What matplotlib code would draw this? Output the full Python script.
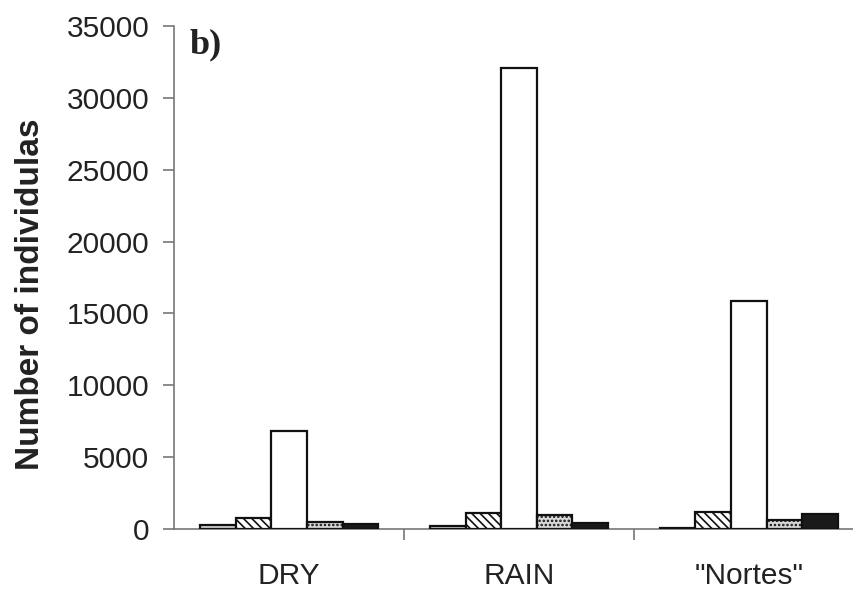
import numpy as np
import matplotlib.pyplot as plt
from matplotlib.ticker import FixedLocator

# datos
seasons = ['DRY', 'RAIN', '"Nortes"']
grp1 = [300, 200, 100]
grp2 = [750, 1100, 1150]
grp3 = [6800, 32100, 15850]
grp4 = [500, 950, 650]
grp5 = [380, 400, 1050]
series = [grp1, grp2, grp3, grp4, grp5]

fills = ['#d0d0d0', 'white', 'white', '#d8d8d8', '#1a1a1a']
hatches = [None, '\\\\\\\\', None, '....', None]

plt.rcParams['font.family'] = ['Liberation Sans', 'DejaVu Sans']
plt.rcParams['hatch.linewidth'] = 1.2

fig = plt.figure(figsize=(8.54, 5.92), dpi=100)
ax = fig.add_axes([0.204, 0.1064, 0.796, 0.8497])

x = np.arange(len(seasons))
w = 0.155
for i, vals in enumerate(series):
    ax.bar(x + (i - 2) * w, vals, w, color=fills[i], edgecolor='#111111',
           linewidth=1.6, hatch=hatches[i], zorder=3)

ax.set_ylim(0, 35000)
ax.set_yticks(np.arange(0, 35001, 5000))
ax.set_xlim(-0.5, 2.457)
ax.set_xticks(x)
ax.set_xticklabels(seasons)
ax.xaxis.set_minor_locator(FixedLocator([0.5, 1.5]))

for s in ['top', 'right']:
    ax.spines[s].set_visible(False)
for s in ['left', 'bottom']:
    ax.spines[s].set_color('#777777')
    ax.spines[s].set_linewidth(1.2)

ax.tick_params(axis='y', labelsize=21.5, length=8, width=1.2, color='#777777',
               pad=10, labelcolor='#222222')
ax.tick_params(axis='x', which='major', length=0, labelsize=21.5, pad=24,
               labelcolor='#222222')
ax.tick_params(axis='x', which='minor', length=8, width=1.2, color='#777777')

fig.text(31 / 854, 1 - 294 / 592, 'Number of individulas', fontsize=24,
         fontweight='bold', color='#222222', rotation=90,
         ha='center', va='center')
fig.text(0.222, 0.925, 'b)', fontsize=26, fontweight='bold',
         family=['Liberation Serif', 'DejaVu Serif'], color='#222222',
         va='center')

fig.savefig('out.png', dpi=100, facecolor='white')
